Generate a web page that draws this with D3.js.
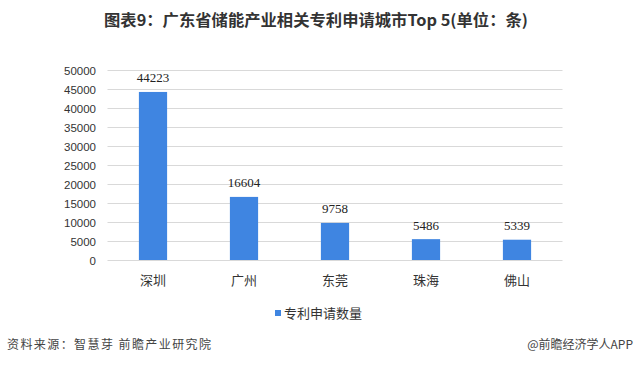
<!DOCTYPE html>
<html><head><meta charset="utf-8">
<script src="https://cdn.jsdelivr.net/npm/d3@7"></script>
<style>body{margin:0;background:#fff;}svg{display:block;}</style>
</head><body>
<svg id="c" width="635" height="366"></svg>
<script>
const categories = ["深圳","广州","东莞","珠海","佛山"];
const values = [44223,16604,9758,5486,5339];
const yTicks = [0,5000,10000,15000,20000,25000,30000,35000,40000,45000,50000];
const seriesName = "专利申请数量";
const title = "图表9：广东省储能产业相关专利申请城市Top 5(单位：条)";
const source = "资料来源：智慧芽 前瞻产业研究院";
const credit = "@前瞻经济学人APP";

const svg = d3.select("#c");
const pL = 107.5, pR = 562.5, pT = 70, pB = 260;
const x = d3.scaleBand().domain(categories).range([pL,pR]).paddingInner(0.69).paddingOuter(0.345);
const y = d3.scaleLinear().domain([0,50000]).range([pB,pT]);
const cn = "'Noto Sans CJK SC','Noto Sans',sans-serif";

svg.append("text").attr("x",104).attr("y",26).attr("font-family",cn).attr("font-weight","bold")
  .attr("font-size",15.5).attr("fill","#333").attr("textLength",424).attr("lengthAdjust","spacingAndGlyphs").text(title);

svg.append("g").selectAll("line").data(yTicks).join("line")
  .attr("x1",pL).attr("x2",pR).attr("y1",d=>Math.round(y(d))+0.5).attr("y2",d=>Math.round(y(d))+0.5)
  .attr("stroke","#d9d9d9").attr("stroke-width",1);

svg.append("g").selectAll("text").data(yTicks).join("text")
  .attr("x",96).attr("y",d=>y(d)+4.5).attr("text-anchor","end")
  .attr("font-family","'Liberation Sans',Arial,sans-serif").attr("font-size",11.5).attr("fill","#333")
  .text(d=>d);

svg.append("g").selectAll("rect").data(values).join("rect")
  .attr("x",(d,i)=>x(categories[i])).attr("width",x.bandwidth())
  .attr("y",d=>y(d)).attr("height",d=>pB-y(d)).attr("fill","#3f85e1");

svg.append("g").selectAll("text").data(values).join("text")
  .attr("x",(d,i)=>x(categories[i])+x.bandwidth()/2).attr("y",d=>y(d)-9.5)
  .attr("text-anchor","middle").attr("font-family","'Liberation Serif','Times New Roman',serif")
  .attr("font-size",13).attr("fill","#222").text(d=>d);

svg.append("g").selectAll("text").data(categories).join("text")
  .attr("x",d=>x(d)+x.bandwidth()/2).attr("y",285).attr("text-anchor","middle")
  .attr("font-family",cn).attr("font-size",13).attr("fill","#333").text(d=>d);

svg.append("rect").attr("x",275).attr("y",310).attr("width",6).attr("height",6).attr("fill","#3f85e1");
svg.append("text").attr("x",284).attr("y",317.5).attr("font-family",cn).attr("font-size",13).attr("fill","#333").text(seriesName);

svg.append("text").attr("x",7).attr("y",349).attr("font-family",cn).attr("font-size",12).attr("fill","#444")
  .attr("textLength",204).text(source);
svg.append("text").attr("x",633).attr("y",349).attr("text-anchor","end").attr("font-family",cn).attr("font-size",12).attr("fill","#444").text(credit);
</script>
</body></html>
